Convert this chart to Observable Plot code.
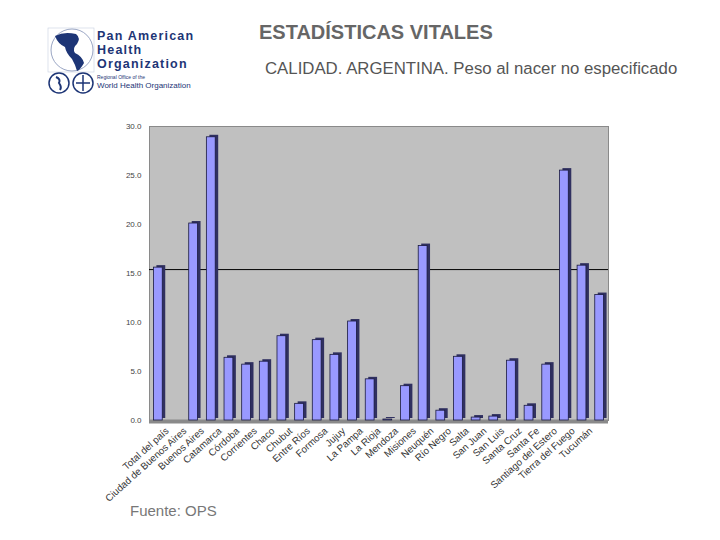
<!DOCTYPE html>
<html>
<head>
<meta charset="utf-8">
<script src="https://cdn.jsdelivr.net/npm/d3@7"></script>
<script src="https://cdn.jsdelivr.net/npm/@observablehq/plot@0.6"></script>
<style>
  body { margin:0; background:#fff; font-family:"Liberation Sans", Arial, sans-serif; }
  #page { position:relative; width:720px; height:540px; overflow:hidden; }
  .abs { position:absolute; white-space:nowrap; }
  .logo { position:absolute; white-space:nowrap; font:bold 12.5px/13px 'Liberation Sans',Arial,sans-serif; color:#1d3576; letter-spacing:1.2px; }
  #chart { position:absolute; left:0; top:110px; }
</style>
</head>
<body>
<div id="page">
  <svg class="abs" style="left:46px;top:26px" width="50" height="70">
    <rect x="2" y="2" width="46" height="44" fill="none" stroke="#c8cfe0" stroke-width="0.6"/>
    <circle cx="26" cy="24" r="21" fill="none" stroke="#9aa6c4" stroke-width="1"/>
    <path d="M9 10 Q18 5 30 8 Q35 12 31 18 Q26 22 29 27 Q36 30 38 37 Q34 44 31 45 Q29 38 26 33 Q20 27 19 21 Q12 18 9 10 Z" fill="#1d3576"/>
    <circle cx="13" cy="57" r="10" fill="none" stroke="#1d3576" stroke-width="1.5"/>
    <circle cx="37" cy="57" r="10" fill="none" stroke="#1d3576" stroke-width="1.5"/>
    <path d="M10 51 Q15 53 13 57 Q16 61 14 64" stroke="#1d3576" stroke-width="2" fill="none"/>
    <path d="M37 49 L37 65 M30 57 L44 57" stroke="#1d3576" stroke-width="1.5"/>
  </svg>
  <div class="logo" style="left:97px;top:30px;">Pan American</div>
  <div class="logo" style="left:97px;top:44px;">Health</div>
  <div class="logo" style="left:97px;top:58px;">Organization</div>
  <div class="abs" style="left:97px;top:74px;font:5px/6px 'Liberation Sans',Arial,sans-serif;color:#1d3576;">Regional Office of the</div>
  <div class="abs" style="left:97px;top:81px;font:8px/9px 'Liberation Sans',Arial,sans-serif;color:#1d3576;">World Health Organization</div>
  <div class="abs" style="left:259px;top:21px;font:bold 20px 'Liberation Sans',Arial,sans-serif;color:#666;">ESTADÍSTICAS VITALES</div>
  <div class="abs" style="left:265px;top:59px;font:16.8px 'Liberation Sans',Arial,sans-serif;color:#555;">CALIDAD. ARGENTINA. Peso al nacer no especificado</div>
  <div class="abs" style="left:130px;top:502px;font:15px 'Liberation Sans',Arial,sans-serif;color:#777;">Fuente: OPS</div>
  <div id="chart"></div>
</div>
<script>
const categories = ["Total del país","Ciudad de Buenos Aires","Buenos Aires","Catamarca","Córdoba","Corrientes","Chaco","Chubut","Entre Ríos","Formosa","Jujuy","La Pampa","La Rioja","Mendoza","Misiones","Neuquén","Río Negro","Salta","San Juan","San Luis","Santa Cruz","Santa Fe","Santiago del Estero","Tierra del Fuego","Tucumán",""];
const values = [15.6, 0, 20.1, 28.9, 6.4, 5.7, 6.0, 8.6, 1.7, 8.2, 6.7, 10.1, 4.2, 0.1, 3.5, 17.8, 1.0, 6.5, 0.3, 0.4, 6.1, 1.5, 5.7, 25.5, 15.8, 12.8];
const referenceValue = 15.4;
const yTicks = [0, 5, 10, 15, 20, 25, 30];

const data = values.map((v, i) => ({i, v, label: categories[i]}));

const chart = Plot.plot({
  width: 720,
  height: 400,
  marginTop: 16,
  marginBottom: 90,
  marginLeft: 149,
  marginRight: 112,
  style: {fontFamily: "'Liberation Sans', Arial, sans-serif", background: "transparent"},
  x: {type: "band", domain: d3.range(values.length), paddingInner: 0.5, paddingOuter: 0.25, round: false, axis: null},
  y: {domain: [0, 30], axis: null},
  marks: [
    Plot.frame({fill: "#c0c0c0", stroke: "#8a8a8a"}),
    Plot.ruleY([0], {stroke: "#8a8a8a", strokeWidth: 4, dy: 1}),
    Plot.ruleY([referenceValue], {stroke: "#000", strokeWidth: 1}),
    Plot.barY(data.filter(d => d.v > 0), {x: "i", y: "v", fill: "#303060", dx: 3, dy: -2}),
    Plot.barY(data.filter(d => d.v > 0), {x: "i", y: "v", fill: "#9999ff", stroke: "#1a1a40", strokeWidth: 0.8}),
    Plot.axisY(yTicks, {tickSize: 0, tickPadding: 8, tickFormat: d3.format(".1f"), fontSize: 8, fill: "#444", label: null}),
    Plot.axisX({tickSize: 0, tickRotate: -42, tickPadding: 9, dx: 9, fontSize: 9.8, fill: "#333", label: null, tickFormat: i => categories[i]})
  ]
});
document.getElementById("chart").appendChild(chart);
</script>
</body>
</html>
